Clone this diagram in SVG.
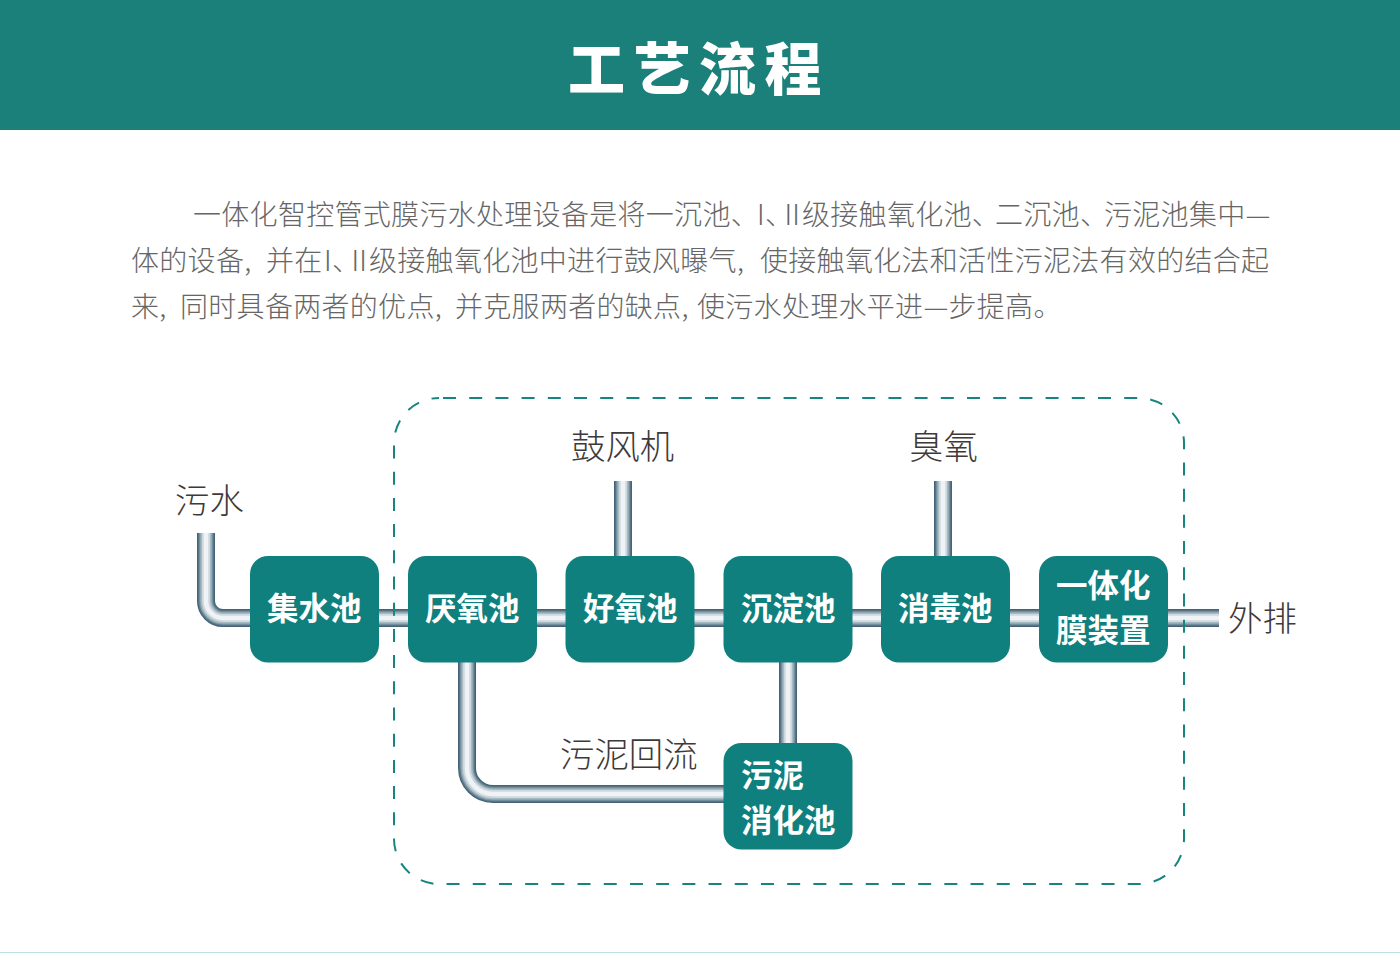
<svg xmlns="http://www.w3.org/2000/svg" width="1400" height="953" viewBox="0 0 1400 953">
<style>
text{font-family:"Noto Sans CJK SC","Noto Sans",sans-serif}
.title{font-size:57px;font-weight:900;fill:#fff;letter-spacing:8.5px}
.body{font-size:28px;font-weight:300;fill:#666;letter-spacing:.3px}
.tight{letter-spacing:-8.5px}
.snug{letter-spacing:-4px}
.lbl{font-size:34.4px;font-weight:300;fill:#3e3a39}
.node rect{fill:#10807e}
.node text{font-size:31.5px;font-weight:700;fill:#fff}
.pipes{fill:none}
.p1{stroke:#42637a;stroke-width:18px}
.p2{stroke:#557585;stroke-width:16px}
.p3{stroke:#7f97a4;stroke-width:13.5px}
.p4{stroke:#a8bac3;stroke-width:11px}
.p5{stroke:#cdd8de;stroke-width:8px}
.p6{stroke:#f0f3f5;stroke-width:4.5px}
.dash{fill:none;stroke:#17857f;stroke-width:2px;stroke-dasharray:13 13.2;stroke-dashoffset:-4}
</style>
<defs>
<path id="pipe-run" d="M206 533V601A17 17 0 0 0 223 618H1219M623 481V560M943 481V560M467 660V768A26 26 0 0 0 493 794H730M788 660V748"/>
</defs>
<rect id="header" x="0" y="0" width="1400" height="130" fill="#1b7f7a"/>
<rect id="footer-line" x="0" y="952" width="1400" height="1" fill="#bfe0dd"/>
<text class="title" x="568" y="90">工艺流程</text>
<text class="body" y="225"><tspan x="193">一体化智控管式膜污水处理设备是将一沉池</tspan><tspan class="snug">、</tspan><tspan x="757">I</tspan><tspan class="tight">、</tspan><tspan>II</tspan><tspan x="802">级接触氧化池</tspan><tspan class="snug">、</tspan><tspan x="995">二沉池</tspan><tspan class="snug">、</tspan><tspan x="1104">污泥池集中—</tspan></text>
<text class="body" y="271"><tspan x="131">体的设备,</tspan><tspan x="266">并在</tspan><tspan x="324">I</tspan><tspan class="tight">、</tspan><tspan>II</tspan><tspan x="369">级接触氧化池中进行鼓风曝气,</tspan><tspan x="760">使接触氧化法和活性污泥法有效的结合起</tspan></text>
<text class="body" y="317"><tspan x="131">来,</tspan><tspan x="180">同时具备两者的优点,</tspan><tspan x="455">并克服两者的缺点,</tspan><tspan x="697">使污水处理水平进—步提高。</tspan></text>
<g id="connectors" class="pipes">
<use href="#pipe-run" class="p1"/>
<use href="#pipe-run" class="p2"/>
<use href="#pipe-run" class="p3"/>
<use href="#pipe-run" class="p4"/>
<use href="#pipe-run" class="p5"/>
<use href="#pipe-run" class="p6"/>
</g>
<rect id="boundary" class="dash" x="394" y="398" width="790" height="486" rx="45" ry="45"/>
<g id="n1" class="node"><rect x="250" y="556" width="129" height="106.5" rx="18"/><text x="267" y="620">集水池</text></g>
<g id="n2" class="node"><rect x="408" y="556" width="129" height="106.5" rx="18"/><text x="425" y="620">厌氧池</text></g>
<g id="n3" class="node"><rect x="565.500" y="556" width="129" height="106.5" rx="18"/><text x="583" y="620">好氧池</text></g>
<g id="n4" class="node"><rect x="723.500" y="556" width="129" height="106.5" rx="18"/><text x="741" y="620">沉淀池</text></g>
<g id="n5" class="node"><rect x="881" y="556" width="129" height="106.5" rx="18"/><text x="898" y="620">消毒池</text></g>
<g id="n6" class="node"><rect x="1039" y="556" width="129" height="106.5" rx="18"/><text x="1056" y="597">一体化</text><text x="1056" y="642">膜装置</text></g>
<g id="n7" class="node"><rect x="723.500" y="743" width="129" height="106.5" rx="18"/><text x="741" y="787">污泥</text><text x="741" y="832">消化池</text></g>
<g id="labels">
<text class="lbl" x="175" y="513">污水</text>
<text class="lbl" x="571" y="459">鼓风机</text>
<text class="lbl" x="909" y="459">臭氧</text>
<text class="lbl" x="1228" y="631">外排</text>
<text class="lbl" x="560" y="767">污泥回流</text>
</g>
</svg>
